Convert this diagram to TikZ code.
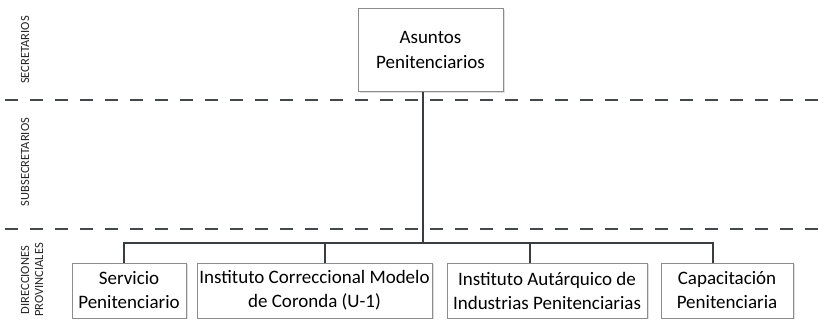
\documentclass[tikz,border=0pt]{standalone}
\usepackage{fontspec}
\setmainfont{Carlito}
\usetikzlibrary{shadows}
\definecolor{linec}{HTML}{3A3D40}
\definecolor{boxc}{HTML}{8C8C8C}
\definecolor{dashc}{HTML}{45484B}
\begin{document}
\begin{tikzpicture}[x=1pt,y=-1pt,
  orgbox/.style={draw=boxc,line width=0.8pt,fill=white,align=center,inner sep=0pt,
    font=\fontsize{19}{24}\selectfont,
    drop shadow={opacity=0.25,shadow xshift=1.5pt,shadow yshift=-1.5pt}},
  conn/.style={draw=linec,line width=2.6pt},
  sep/.style={draw=dashc,line width=2.6pt,dash pattern=on 13pt off 12pt},
  lvl/.style={rotate=90,font=\fontsize{12.5}{14}\selectfont,text=black!85,inner sep=0pt,align=center}]
\useasboundingbox (0,0) rectangle (825,328);
% separators
\coordinate (s1a) at (5,100); \coordinate (s1b) at (825,100);
\coordinate (s2a) at (5,229); \coordinate (s2b) at (825,229);
\draw[sep] (s1a) -- (s1b);
\draw[sep] (s2a) -- (s2b);
% level labels
\node[lvl] (l1) at (25,50) {SECRETARIOS};
\node[lvl] (l2) at (25,162) {SUBSECRETARIOS};
\node[lvl] (l3) at (32,280) {DIRECCIONES\\PROVINCIALES};
% boxes
\node[orgbox,minimum width=145pt,minimum height=83pt,font=\fontsize{19}{25.5}\selectfont] (top) at (430.5,50) {Asuntos\\Penitenciarios};
\node[orgbox,minimum width=114pt,minimum height=55pt] (b1) at (129,290.5) {Servicio\\Penitenciario};
\node[orgbox,minimum width=235pt,minimum height=55pt] (b2) at (314.5,290.5) {Instituto Correccional Modelo\\de Coronda (U-1)};
\node[orgbox,minimum width=200pt,minimum height=55pt] (b3) at (547,290.5) {Instituto Autárquico de\\Industrias Penitenciarias};
\node[orgbox,minimum width=132pt,minimum height=55pt] (b4) at (727,290.5) {Capacitación\\Penitenciaria};
% connectors
\coordinate (tb) at (423,243);
\coordinate (d1) at (124,243);
\coordinate (d2) at (325,243);
\coordinate (d3) at (530,243);
\coordinate (d4) at (713,243);
\draw[conn] (tb |- top.south) -- (tb);
\draw[conn,line join=miter] (d1 |- b1.north) -- (d1) -- (d4) -- (d4 |- b4.north);
\draw[conn] (d2) -- (d2 |- b2.north);
\draw[conn] (d3) -- (d3 |- b3.north);
\end{tikzpicture}
\end{document}
